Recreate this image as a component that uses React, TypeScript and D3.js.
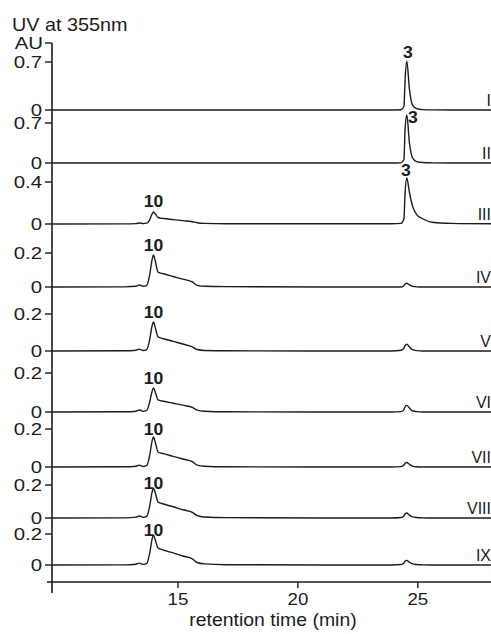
import React from "react";
import * as d3 from "d3";

// ---- data ----
const traceNames = ["I", "II", "III", "IV", "V", "VI", "VII", "VIII", "IX"];
const tickTops = [0.7, 0.7, 0.4, 0.2, 0.2, 0.2, 0.2, 0.2, 0.2];
const xTicks = [15, 20, 25];
const xDomain = [9.75, 28.05];

// retention times (min) shared by all traces
const times = [9.75, 12.8, 13.25, 13.4, 13.55, 13.7, 13.82, 13.92, 13.98, 14.06, 14.17, 14.4, 14.8, 15.2, 15.6, 15.8, 16.1, 17.0,
  23.9, 24.3, 24.42, 24.47, 24.54, 24.65, 24.78, 24.95, 25.2, 25.6, 26.4, 28.05];

const traceI = [0, 0, 0, 0, 0, 0, 0, 0, 0, 0, 0, 0, 0, 0, 0, 0, 0, 0,
  0, 0.004, 0.05, 0.45, 0.71, 0.3, 0.07, 0.02, 0.006, 0.002, 0, 0];
const traceII = [0, 0, 0, 0, 0, 0, 0, 0, 0, 0, 0, 0, 0, 0, 0, 0, 0, 0,
  0, 0.003, 0.06, 0.6, 0.84, 0.35, 0.09, 0.025, 0.008, 0.003, 0, 0];
const traceIII = [0, 0.001, 0.004, 0.01, 0.004, 0.008, 0.04, 0.095, 0.114, 0.095, 0.062, 0.052, 0.042, 0.032, 0.022, 0.012, 0.006, 0.003,
  0.002, 0.006, 0.05, 0.3, 0.438, 0.3, 0.17, 0.09, 0.05, 0.017, 0.006, 0.002];
const traceIV = [0, 0.001, 0.004, 0.012, 0.004, 0.01, 0.07, 0.16, 0.188, 0.15, 0.088, 0.078, 0.062, 0.046, 0.03, 0.01, 0.004, 0.002,
  0, 0, 0.008, 0.018, 0.022, 0.012, 0.004, 0.001, 0, 0, 0, 0];
const traceV = [0, 0.001, 0.004, 0.01, 0.003, 0.008, 0.06, 0.135, 0.157, 0.125, 0.076, 0.066, 0.052, 0.038, 0.022, 0.008, 0.003, 0.001,
  0, 0.004, 0.015, 0.03, 0.037, 0.022, 0.007, 0.002, 0, 0, 0, 0];
const traceVI = [0, 0.001, 0.004, 0.01, 0.003, 0.008, 0.05, 0.105, 0.123, 0.1, 0.062, 0.055, 0.045, 0.035, 0.024, 0.01, 0.004, 0.001,
  0, 0.002, 0.012, 0.028, 0.034, 0.02, 0.006, 0.002, 0, 0, 0, 0];
const traceVII = [0, 0.001, 0.004, 0.01, 0.003, 0.008, 0.06, 0.135, 0.158, 0.128, 0.079, 0.07, 0.056, 0.042, 0.028, 0.01, 0.004, 0.001,
  0, 0.002, 0.01, 0.02, 0.024, 0.014, 0.005, 0.001, 0, 0, 0, 0];
const traceVIII = [0, 0.001, 0.005, 0.012, 0.004, 0.01, 0.07, 0.155, 0.18, 0.15, 0.097, 0.085, 0.068, 0.05, 0.034, 0.014, 0.006, 0.002,
  0, 0.003, 0.012, 0.026, 0.03, 0.018, 0.007, 0.003, 0.001, 0, 0, 0];
const traceIX = [0, 0.001, 0.005, 0.012, 0.004, 0.01, 0.075, 0.165, 0.194, 0.16, 0.11, 0.096, 0.078, 0.058, 0.04, 0.016, 0.007, 0.002,
  0, 0.003, 0.012, 0.026, 0.03, 0.018, 0.007, 0.003, 0.001, 0, 0, 0];
const traces = [traceI, traceII, traceIII, traceIV, traceV, traceVI, traceVII, traceVIII, traceIX];

// peak labels: trace index, label, index into times
const peakTrace = [0, 1, 2, 2, 3, 4, 5, 6, 7, 8];
const peakText = ["3", "3", "3", "10", "10", "10", "10", "10", "10", "10"];
const peakIdx = [22, 22, 22, 8, 8, 8, 8, 8, 8, 8];

// ---- layout ----
const W = 491, H = 634;
const zeroY = [110, 163, 224, 287, 351, 412, 467, 518, 565];
const topY = [62, 123, 182, 253, 314, 373, 429, 485, 534];
const peakDx = [1, 6, -1, 0, 0, 0, 0, 0, 0, 0];
const peakDy = [-3, 8, -2, -5, -4, -4, -4, -2, 1, 1];
const axisX = 52, axisBottomY = 582;
const font = "'Liberation Sans', Arial, Helvetica, sans-serif";
const ink = "#1c1c1c";

function Txt({ x, y, sx = 1, anchor = "start", size = 16, weight = "normal", children }: any) {
  return (
    <text transform={`translate(${x},${y}) scale(${sx},1)`} textAnchor={anchor} fontSize={size}
      fontWeight={weight} fontFamily={font} fill={ink}>{children}</text>
  );
}

export default function App() {
  const x = d3.scaleLinear().domain(xDomain).range([axisX, W]);
  const yScales = traceNames.map((_, p) =>
    d3.scaleLinear().domain([0, tickTops[p]]).range([zeroY[p], topY[p]]));

  return (
    <svg width={W} height={H} style={{ position: "absolute", left: 0, top: 0, background: "#fff" }}>
      {/* traces */}
      {traces.map((vals, p) => {
        const line = d3.line<number>()
          .x((_, i) => x(times[i]))
          .y((v) => yScales[p](v))
          .curve(d3.curveMonotoneX);
        return <path key={p} d={line(vals) || ""} fill="none" stroke={ink} strokeWidth={1.4} />;
      })}

      {/* y axis */}
      <line x1={axisX} x2={axisX} y1={43} y2={593} stroke={ink} strokeWidth={1.6} />
      <line x1={45} x2={axisX} y1={43} y2={43} stroke={ink} strokeWidth={1.4} />
      <Txt x={43} y={49} sx={1.2} anchor="end" size={17}>AU</Txt>
      <Txt x={12} y={31} sx={1.1} size={18}>UV at 355nm</Txt>
      {traceNames.map((_, p) => {
        const y = yScales[p];
        return (
          <g key={"yt" + p}>
            {[0, tickTops[p]].map((v) => (
              <g key={v}>
                <line x1={45} x2={axisX} y1={y(v)} y2={y(v)} stroke={ink} strokeWidth={1.4} />
                <Txt x={42} y={y(v) + 6} sx={1.2} anchor="end" size={17}>{String(v)}</Txt>
              </g>
            ))}
          </g>
        );
      })}

      {/* x axis */}
      <line x1={47} x2={W} y1={axisBottomY} y2={axisBottomY} stroke={ink} strokeWidth={1.6} />
      {xTicks.map((t) => (
        <g key={t}>
          <line x1={x(t)} x2={x(t)} y1={axisBottomY} y2={axisBottomY + 6} stroke={ink} strokeWidth={1.4} />
          <Txt x={x(t)} y={605} sx={1.1} anchor="middle" size={17}>{String(t)}</Txt>
        </g>
      ))}
      <Txt x={273} y={626} sx={1.08} anchor="middle" size={18}>retention time (min)</Txt>

      {/* trace labels */}
      {traceNames.map((n, p) => (
        <Txt key={n} x={491} y={zeroY[p] - 4} anchor="end" size={16}>{n}</Txt>
      ))}

      {/* peak labels */}
      {peakTrace.map((p, k) => {
        const i = peakIdx[k];
        const px = x(times[i]) + peakDx[k];
        const py = yScales[p](traces[p][i]) + peakDy[k];
        return <Txt key={"pk" + k} x={px} y={py} sx={1.1} anchor="middle" size={16} weight="bold">{peakText[k]}</Txt>;
      })}
    </svg>
  );
}
